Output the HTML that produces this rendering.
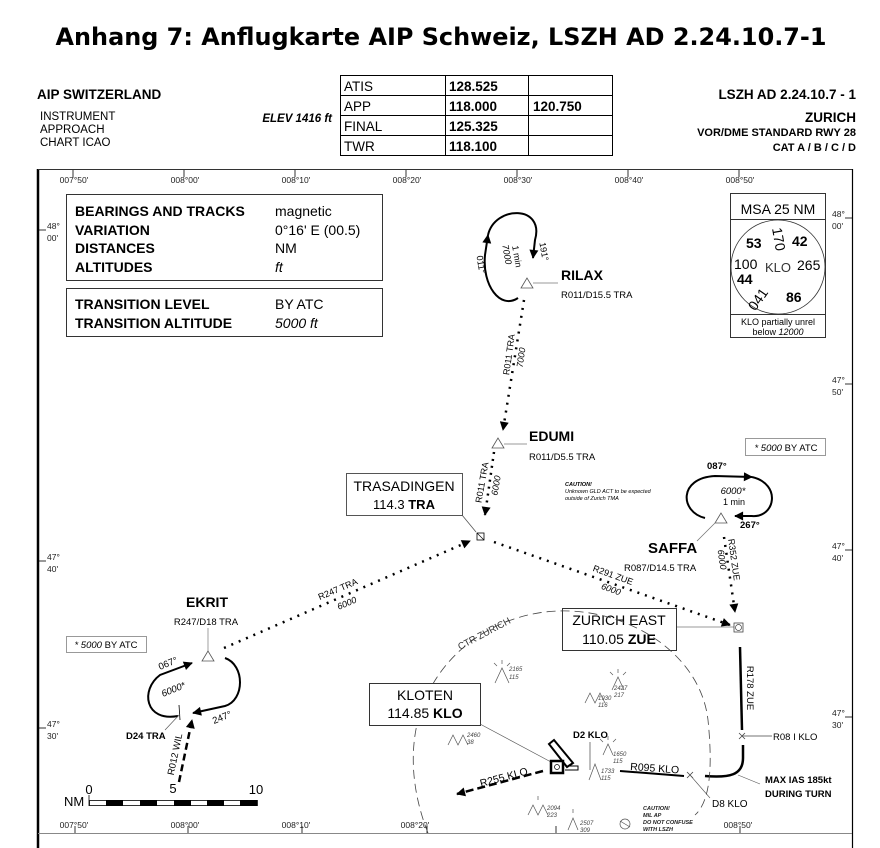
<!DOCTYPE html>
<html><head><meta charset="utf-8"><style>
html,body{margin:0;padding:0;background:#fff;}
svg{display:block;font-family:"Liberation Sans",sans-serif;}
.b{font-weight:bold}
.i{font-style:italic}
</style></head><body>
<svg width="880" height="848" viewBox="0 0 880 848" xmlns="http://www.w3.org/2000/svg">
<defs>
<marker id="arb" viewBox="0 0 10 10" refX="9" refY="5" markerWidth="12" markerHeight="9" orient="auto" markerUnits="userSpaceOnUse"><path d="M0,0 L10,5 L0,10 z" fill="#000"/></marker>
</defs>
<!-- Title -->
<text x="441" y="45" text-anchor="middle" font-family="DejaVu Sans, sans-serif" font-weight="bold" font-size="24" textLength="771" lengthAdjust="spacingAndGlyphs">Anhang 7: Anflugkarte AIP Schweiz, LSZH AD 2.24.10.7-1</text>

<!-- Header -->
<text x="37" y="99" class="b" font-size="13.5">AIP SWITZERLAND</text>
<text x="40" y="120" font-size="11.5">INSTRUMENT</text>
<text x="40" y="133" font-size="11.5">APPROACH</text>
<text x="40" y="146" font-size="11.5">CHART ICAO</text>
<text x="332" y="122" text-anchor="end" class="b i" font-size="11.5">ELEV 1416 ft</text>
<g stroke="#000" stroke-width="1" fill="none">
<rect x="340.5" y="75.5" width="272" height="80"/>
<line x1="340" y1="95.5" x2="612" y2="95.5"/><line x1="340" y1="115.5" x2="612" y2="115.5"/><line x1="340" y1="135.5" x2="612" y2="135.5"/>
<line x1="445.5" y1="75" x2="445.5" y2="155"/><line x1="528.5" y1="75" x2="528.5" y2="155"/>
</g>
<g font-size="13.5">
<text x="344" y="91">ATIS</text><text x="449" y="91" class="b">128.525</text>
<text x="344" y="111">APP</text><text x="449" y="111" class="b">118.000</text><text x="533" y="111" class="b">120.750</text>
<text x="344" y="131">FINAL</text><text x="449" y="131" class="b">125.325</text>
<text x="344" y="151">TWR</text><text x="449" y="151" class="b">118.100</text>
</g>
<g text-anchor="end" class="b">
<text x="856" y="99" font-size="13.5">LSZH AD 2.24.10.7 - 1</text>
<text x="856" y="122" font-size="13.5">ZURICH</text>
<text x="856" y="136" font-size="11">VOR/DME STANDARD RWY 28</text>
<text x="856" y="151" font-size="11">CAT A / B / C / D</text>
</g>

<!-- Frame -->
<line x1="38" y1="169" x2="38" y2="848" stroke="#000" stroke-width="2.5"/>
<line x1="38" y1="169.5" x2="852" y2="169.5" stroke="#333" stroke-width="1"/>
<line x1="852.5" y1="169" x2="852.5" y2="848" stroke="#000" stroke-width="1.2"/>
<line x1="38" y1="833.5" x2="852" y2="833.5" stroke="#888" stroke-width="1"/>
<g font-size="8.5" fill="#222" text-anchor="middle">
<text x="74" y="183">007°50'</text><text x="185" y="183">008°00'</text><text x="296" y="183">008°10'</text><text x="407" y="183">008°20'</text><text x="518" y="183">008°30'</text><text x="629" y="183">008°40'</text><text x="740" y="183">008°50'</text>
<text x="74" y="828">007°50'</text><text x="185" y="828">008°00'</text><text x="296" y="828">008°10'</text><text x="415" y="828">008°20'</text><text x="738" y="828">008°50'</text>
</g>
<g stroke="#000" stroke-width="0.8">
<line x1="73" y1="170" x2="73" y2="177"/><line x1="184" y1="170" x2="184" y2="177"/><line x1="295" y1="170" x2="295" y2="177"/><line x1="406" y1="170" x2="406" y2="177"/><line x1="517" y1="170" x2="517" y2="177"/><line x1="628" y1="170" x2="628" y2="177"/><line x1="739" y1="170" x2="739" y2="177"/>
<line x1="75" y1="826" x2="75" y2="833"/><line x1="188" y1="826" x2="188" y2="833"/><line x1="302" y1="826" x2="302" y2="833"/><line x1="427" y1="826" x2="427" y2="833"/><line x1="740" y1="826" x2="740" y2="833"/><line x1="556" y1="826" x2="556" y2="833"/>
<line x1="38" y1="230" x2="46" y2="230"/><line x1="38" y1="561" x2="46" y2="561"/><line x1="38" y1="728" x2="46" y2="728"/>
<line x1="845" y1="218" x2="852" y2="218"/><line x1="845" y1="384" x2="852" y2="384"/><line x1="845" y1="550" x2="852" y2="550"/><line x1="845" y1="717" x2="852" y2="717"/>
</g>
<g font-size="8.5" fill="#222">
<text x="47" y="229">48°</text><text x="47" y="241">00'</text>
<text x="47" y="560">47°</text><text x="47" y="572">40'</text>
<text x="47" y="727">47°</text><text x="47" y="739">30'</text>
<text x="832" y="217">48°</text><text x="832" y="229">00'</text>
<text x="832" y="383">47°</text><text x="832" y="395">50'</text>
<text x="832" y="549">47°</text><text x="832" y="561">40'</text>
<text x="832" y="716">47°</text><text x="832" y="728">30'</text>
</g>

<!-- Info boxes -->
<rect x="66.5" y="194.5" width="316" height="86" fill="none" stroke="#333"/>
<rect x="66.5" y="288.5" width="316" height="48" fill="none" stroke="#333"/>
<g font-size="14">
<text x="75" y="216" class="b">BEARINGS AND TRACKS</text><text x="275" y="216">magnetic</text>
<text x="75" y="235" class="b">VARIATION</text><text x="275" y="235">0°16' E (00.5)</text>
<text x="75" y="253" class="b">DISTANCES</text><text x="275" y="253">NM</text>
<text x="75" y="272" class="b">ALTITUDES</text><text x="275" y="272" class="i">ft</text>
<text x="75" y="309" class="b">TRANSITION LEVEL</text><text x="275" y="309">BY ATC</text>
<text x="75" y="328" class="b">TRANSITION ALTITUDE</text><text x="275" y="328" class="i">5000 ft</text>
</g>

<!-- MSA -->
<rect x="730.5" y="193.5" width="95" height="144" fill="none" stroke="#333"/>
<line x1="730" y1="219.5" x2="825" y2="219.5" stroke="#333"/>
<line x1="730" y1="314.5" x2="825" y2="314.5" stroke="#333"/>
<text x="778" y="214" text-anchor="middle" font-size="14">MSA 25 NM</text>
<circle cx="778" cy="267" r="47" fill="none" stroke="#333" stroke-width="0.8"/>
<text x="778" y="272" text-anchor="middle" font-size="13" fill="#333">KLO</text>
<text x="734" y="269" font-size="14">100</text><text x="797" y="270" font-size="14">265</text>
<text x="774" y="240" font-size="14" transform="rotate(80 774 240)" text-anchor="middle">170</text>
<text x="762" y="302" font-size="14" transform="rotate(-55 762 302)" text-anchor="middle">041</text>
<g class="b" font-size="14"><text x="746" y="248">53</text><text x="792" y="246">42</text><text x="737" y="284">44</text><text x="786" y="302">86</text></g>
<text x="778" y="325" text-anchor="middle" font-size="9">KLO partially unrel</text>
<text x="778" y="335" text-anchor="middle" font-size="9">below <tspan class="i">12000</tspan></text>

<!-- RILAX holding -->
<path d="M518,298 C500,310 482,285 485,255 L488,235" fill="none" stroke="#000" stroke-width="2" marker-end="url(#arb)"/>
<path d="M488,235 C495,205 545,205 535,240 L533,258" fill="none" stroke="#000" stroke-width="2" marker-end="url(#arb)"/>
<text x="504" y="255" font-size="9" class="i" transform="rotate(80 504 255)" text-anchor="middle">7000</text>
<text x="514" y="257" font-size="9" transform="rotate(80 514 257)" text-anchor="middle">1 min</text>
<text x="478" y="265" font-size="9" transform="rotate(80 478 265)" text-anchor="middle">011°</text>
<text x="541" y="252" font-size="9" transform="rotate(80 541 252)" text-anchor="middle">191°</text>
<path d="M527,278 L521,288 L533,288 z" fill="#fff" stroke="#555" stroke-width="0.8"/>
<line x1="533" y1="283" x2="558" y2="283" stroke="#777" stroke-width="0.8"/>
<text x="561" y="280" class="b" font-size="14">RILAX</text>
<text x="561" y="298" font-size="9.5">R011/D15.5 TRA</text>
<line x1="524" y1="300" x2="503" y2="430" stroke="#000" stroke-width="2.5" stroke-dasharray="2,6" marker-end="url(#arb)"/>
<text x="512" y="355" font-size="9" transform="rotate(-82 512 355)" text-anchor="middle">R011 TRA</text>
<text x="524" y="358" font-size="9" class="i" transform="rotate(-82 524 358)" text-anchor="middle">7000</text>

<!-- EDUMI -->
<path d="M498,438 L492,448 L504,448 z" fill="#fff" stroke="#555" stroke-width="0.8"/>
<line x1="504" y1="444" x2="527" y2="444" stroke="#777" stroke-width="0.8"/>
<text x="529" y="441" class="b" font-size="14">EDUMI</text>
<text x="529" y="460" font-size="9.5">R011/D5.5 TRA</text>
<line x1="494" y1="452" x2="485" y2="515" stroke="#000" stroke-width="2.5" stroke-dasharray="2,5" marker-end="url(#arb)"/>
<text x="485" y="483" font-size="9" transform="rotate(-80 485 483)" text-anchor="middle">R011 TRA</text>
<text x="499" y="486" font-size="9" class="i" transform="rotate(-80 499 486)" text-anchor="middle">6000</text>
<g font-size="5.5" class="i"><text x="565" y="486" class="b">CAUTION!</text><text x="565" y="493">Unknown GLD ACT to be expected</text><text x="565" y="500">outside of Zurich TMA</text></g>

<!-- TRASADINGEN -->
<rect x="346.5" y="473.5" width="116" height="42" fill="#fff" stroke="#555"/>
<text x="404" y="491" text-anchor="middle" font-size="14">TRASADINGEN</text>
<text x="404" y="509" text-anchor="middle" font-size="13">114.3 <tspan class="b">TRA</tspan></text>
<line x1="462" y1="515" x2="476" y2="532" stroke="#555" stroke-width="0.8"/>
<rect x="477" y="533" width="7" height="7" fill="#fff" stroke="#000" stroke-width="0.8"/>
<line x1="477" y1="533" x2="484" y2="540" stroke="#000" stroke-width="0.6"/>

<!-- EKRIT to TRA -->
<line x1="224" y1="648" x2="470" y2="541" stroke="#000" stroke-width="2.5" stroke-dasharray="2,6" marker-end="url(#arb)"/>
<text x="339" y="592" font-size="9" transform="rotate(-23 339 592)" text-anchor="middle">R247 TRA</text>
<text x="348" y="606" font-size="9" class="i" transform="rotate(-23 348 606)" text-anchor="middle">6000</text>
<!-- TRA to ZUE -->
<line x1="494" y1="542" x2="730" y2="625" stroke="#000" stroke-width="2.5" stroke-dasharray="2,6" marker-end="url(#arb)"/>
<text x="612" y="578" font-size="9" transform="rotate(20 612 578)" text-anchor="middle">R291 ZUE</text>
<text x="610" y="592" font-size="9" class="i" transform="rotate(20 610 592)" text-anchor="middle">6000</text>

<!-- SAFFA -->
<path d="M705,518 C680,512 678,478 715,476 L752,477" fill="none" stroke="#000" stroke-width="2" marker-end="url(#arb)"/>
<path d="M752,477 C782,484 775,518 752,516 L735,516" fill="none" stroke="#000" stroke-width="2" marker-end="url(#arb)"/>
<text x="707" y="469" font-size="9.5" class="b">087°</text>
<text x="733" y="494" font-size="9.5" class="i" text-anchor="middle">6000*</text>
<text x="734" y="505" font-size="9" text-anchor="middle">1 min</text>
<text x="740" y="528" font-size="9.5" class="b">267°</text>
<path d="M721,513 L715,523 L727,523 z" fill="#fff" stroke="#555" stroke-width="0.8"/>
<line x1="716" y1="522" x2="697" y2="541" stroke="#777" stroke-width="0.8"/>
<text x="648" y="553" class="b" font-size="15">SAFFA</text>
<text x="624" y="571" font-size="9.5">R087/D14.5 TRA</text>
<line x1="724" y1="537" x2="735" y2="612" stroke="#000" stroke-width="2.5" stroke-dasharray="2,6" marker-end="url(#arb)"/>
<text x="731" y="560" font-size="9" transform="rotate(82 731 560)" text-anchor="middle">R352 ZUE</text>
<text x="719" y="560" font-size="9" class="i" transform="rotate(82 719 560)" text-anchor="middle">6000</text>
<rect x="745.5" y="438.5" width="80" height="17" fill="#fff" stroke="#999"/>
<text x="786" y="451" text-anchor="middle" font-size="9.5"><tspan class="i">* 5000</tspan> BY ATC</text>

<!-- ZURICH EAST -->
<rect x="562.5" y="608.5" width="114" height="42" fill="#fff" stroke="#333"/>
<text x="619" y="625" text-anchor="middle" font-size="14">ZURICH EAST</text>
<text x="619" y="644" text-anchor="middle" font-size="14">110.05 <tspan class="b">ZUE</tspan></text>
<line x1="677" y1="627" x2="734" y2="627" stroke="#777" stroke-width="0.8"/>
<rect x="734" y="623" width="9" height="9" fill="#fff" stroke="#444" stroke-width="0.8"/>
<circle cx="738.5" cy="627.5" r="3" fill="none" stroke="#444" stroke-width="0.7"/>

<!-- Final track -->
<line x1="740" y1="647" x2="742" y2="730" stroke="#000" stroke-width="2.5"/>
<path d="M743,745 L743,758 C743,775 730,778 705,776" fill="none" stroke="#000" stroke-width="2.5"/>
<text x="747" y="688" font-size="9.5" transform="rotate(90 747 688)" text-anchor="middle">R178 ZUE</text>
<line x1="742" y1="736" x2="772" y2="736" stroke="#444" stroke-width="0.8"/>
<path d="M739,733 L745,739 M745,733 L739,739" stroke="#444" stroke-width="0.8"/>
<text x="773" y="740" font-size="9.5">R08 I KLO</text>
<line x1="738" y1="775" x2="760" y2="784" stroke="#555" stroke-width="0.6"/>
<text x="765" y="783" class="b" font-size="9.5">MAX IAS 185kt</text>
<text x="765" y="797" class="b" font-size="9.5">DURING TURN</text>
<path d="M687,772 L693,778 M693,772 L687,778" stroke="#444" stroke-width="0.8"/>
<line x1="690" y1="775" x2="710" y2="798" stroke="#555" stroke-width="0.6"/>
<text x="712" y="807" font-size="10">D8 KLO</text>
<line x1="620" y1="771" x2="684" y2="776" stroke="#000" stroke-width="2"/>
<text x="630" y="770" font-size="10.5" transform="rotate(4 630 770)">R095 KLO</text>

<!-- CTR circle -->
<path d="M428,833 C415,800 408,760 418,720 C432,665 480,620 545,612 C620,603 700,650 708,720 C712,760 712,800 695,815" fill="none" stroke="#444" stroke-width="0.8" stroke-dasharray="9,5"/>
<text x="460" y="650" font-size="9.5" fill="#333" transform="rotate(-28 460 650)">CTR  ZURICH</text>

<!-- KLOTEN -->
<rect x="369.5" y="683.5" width="111" height="42" fill="#fff" stroke="#333"/>
<text x="425" y="700" text-anchor="middle" font-size="14">KLOTEN</text>
<text x="425" y="718" text-anchor="middle" font-size="14">114.85 <tspan class="b">KLO</tspan></text>
<line x1="480" y1="724" x2="551" y2="762" stroke="#555" stroke-width="0.7"/>
<path d="M549,744 L554,740 L573,763 L567,767 z" fill="#fff" stroke="#000" stroke-width="2"/>
<path d="M565,766 L578,766 L578,770 L565,770" fill="none" stroke="#000" stroke-width="1"/>
<rect x="551" y="761" width="12" height="12" fill="#fff" stroke="#000" stroke-width="2.5"/>
<circle cx="557" cy="767" r="2.5" fill="none" stroke="#000" stroke-width="0.7"/>
<line x1="543" y1="771" x2="457" y2="794" stroke="#000" stroke-width="2.5" stroke-dasharray="8,4" marker-end="url(#arb)"/>
<text x="481" y="787" font-size="10.5" transform="rotate(-15 481 787)">R255 KLO</text>
<text x="573" y="738" class="b" font-size="9.5">D2 KLO</text>
<line x1="590" y1="742" x2="590" y2="770" stroke="#444" stroke-width="0.7"/>

<!-- obstacles -->
<g fill="none" stroke="#555" stroke-width="0.7">
<path d="M495,683 L502,668 L509,683"/><path d="M502,664 l0,-4 M497,666 l-3,-3 M507,666 l3,-3"/>
<path d="M585,703 L590,693 L595,703 L600,693 L605,703"/>
<path d="M612,690 L618,677 L624,690"/><path d="M618,673 l0,-4 M613,675 l-3,-3 M623,675 l3,-3"/>
<path d="M448,745 L453,735 L458,745 L463,735 L468,745"/>
<path d="M603,755 L608,744 L613,755"/><path d="M608,740 l0,-4 M603,742 l-3,-3 M613,742 l3,-3"/>
<path d="M589,780 L595,764 L601,780"/>
<path d="M528,815 L533,805 L538,815 L543,805 L548,815"/><path d="M538,800 l0,-4"/>
<path d="M568,830 L573,818 L578,830"/><path d="M573,813 l0,-4"/>
<circle cx="625" cy="824" r="5"/><path d="M620,821 L630,827"/>
</g>
<g font-size="6" class="i" fill="#444">
<text x="509" y="671">2165</text><text x="509" y="679">115</text>
<text x="614" y="690">2427</text><text x="614" y="697">217</text>
<text x="598" y="700">1930</text><text x="598" y="707">116</text>
<text x="467" y="737">2460</text><text x="467" y="744">38</text>
<text x="613" y="756">1650</text><text x="613" y="763">115</text>
<text x="601" y="773">1733</text><text x="601" y="780">115</text>
<text x="547" y="810">2094</text><text x="547" y="817">223</text>
<text x="580" y="825">2507</text><text x="580" y="832">309</text>
</g>
<g font-size="5.5" class="i b" fill="#222"><text x="643" y="810">CAUTION!</text><text x="643" y="817">MIL AP</text><text x="643" y="824">DO NOT CONFUSE</text><text x="643" y="831">WITH LSZH</text></g>

<!-- EKRIT -->
<path d="M208,651 L202,661 L214,661 z" fill="#fff" stroke="#555" stroke-width="0.8"/>
<line x1="208" y1="628" x2="208" y2="651" stroke="#777" stroke-width="0.7"/>
<text x="207" y="607" text-anchor="middle" class="b" font-size="14">EKRIT</text>
<text x="206" y="625" text-anchor="middle" font-size="9.5">R247/D18 TRA</text>
<rect x="66.5" y="636.5" width="80" height="16" fill="#fff" stroke="#999"/>
<text x="106" y="648" text-anchor="middle" font-size="9.5"><tspan class="i">* 5000</tspan> BY ATC</text>
<path d="M225,658 C245,665 245,700 225,706 L193,713" fill="none" stroke="#000" stroke-width="2" marker-end="url(#arb)"/>
<path d="M178,716 C145,722 140,690 160,675 L192,663" fill="none" stroke="#000" stroke-width="2" marker-end="url(#arb)"/>
<text x="160" y="670" font-size="9.5" transform="rotate(-22 160 670)">067°</text>
<text x="163" y="697" font-size="9.5" class="i" transform="rotate(-22 163 697)">6000*</text>
<text x="214" y="724" font-size="9.5" transform="rotate(-22 214 724)">247°</text>
<line x1="179" y1="705" x2="180" y2="720" stroke="#000" stroke-width="0.8"/>
<line x1="180" y1="714" x2="165" y2="730" stroke="#555" stroke-width="0.6"/>
<text x="126" y="739" class="b" font-size="9.5">D24 TRA</text>
<line x1="179" y1="782" x2="192" y2="720" stroke="#000" stroke-width="2.5" stroke-dasharray="7,4" marker-end="url(#arb)"/>
<text x="178" y="755" font-size="9.5" transform="rotate(-78 178 755)" text-anchor="middle">R012 WIL</text>

<!-- Scale -->
<text x="89" y="794" text-anchor="middle" font-size="13">0</text>
<text x="173" y="793" text-anchor="middle" font-size="13">5</text>
<text x="256" y="794" text-anchor="middle" font-size="13">10</text>
<text x="64" y="806" font-size="13">NM</text>
<line x1="89" y1="795" x2="89" y2="806" stroke="#000" stroke-width="0.8"/>
<rect x="89.5" y="800.5" width="168" height="5" fill="#fff" stroke="#000" stroke-width="0.8"/>
<g fill="#000"><rect x="106" y="800" width="17" height="6"/><rect x="140" y="800" width="17" height="6"/><rect x="174" y="800" width="17" height="6"/><rect x="207" y="800" width="17" height="6"/><rect x="240" y="800" width="17" height="6"/></g>
</svg>
</body></html>
